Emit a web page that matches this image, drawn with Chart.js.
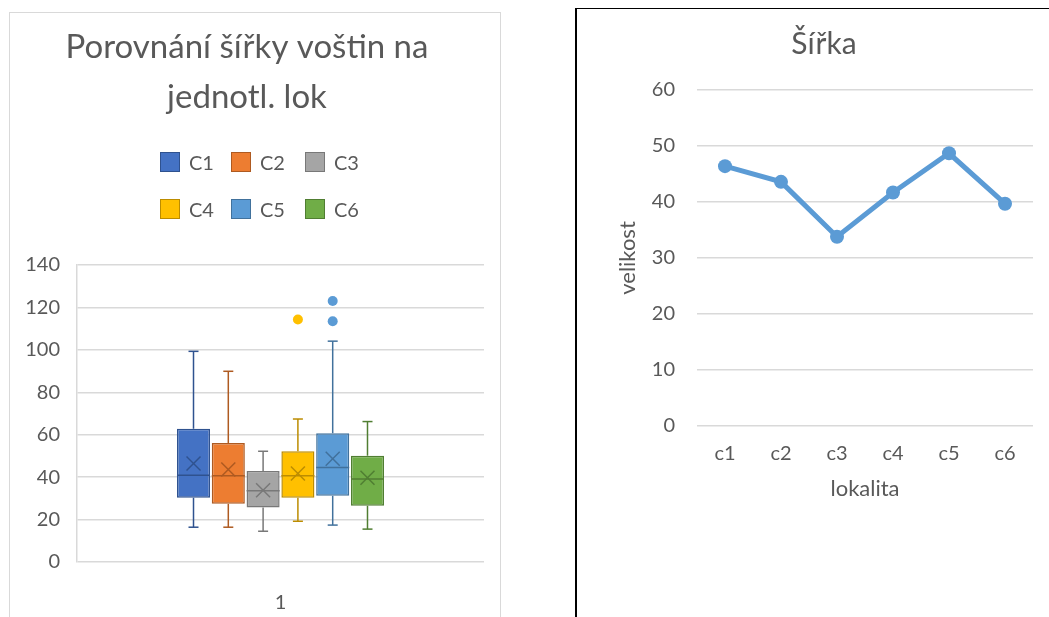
<!DOCTYPE html>
<html lang="cs">
<head>
<meta charset="utf-8">
<script src="https://cdn.jsdelivr.net/npm/chart.js@4.4.1/dist/chart.umd.min.js"></script>
<style>
    body { margin: 0; width: 1049px; height: 617px; background: #fff; position: relative; overflow: hidden; font-family: Lato, sans-serif; }
    #leftPanel { position: absolute; left: 9px; top: 12px; width: 490px; height: 620px; border: 1px solid #d9d9d9; }
    #rightPanel { position: absolute; left: 575px; top: 8px; width: 480px; height: 620px; border-left: 2px solid #000; border-top: 1px solid #000; }
    #boxWrap { position: absolute; left: 0; top: 0; width: 490px; height: 604px; }
    #lineWrap { position: absolute; left: 0; top: 0; width: 472px; height: 608px; }
    #boxLegend { position: absolute; left: 150px; top: 139px; display: grid; grid-template-columns: 71px 74px 60px; row-gap: 27px; }
    .item { display: flex; align-items: center; gap: 9px; font-size: 20px; color: #595959; height: 20px; }
    .swatch { width: 18px; height: 18px; border: 1px solid; }
</style>
</head>
<body>
<div id="leftPanel">
    <div id="boxWrap"><canvas id="boxChart"></canvas></div>
    <div id="boxLegend"></div>
</div>
<div id="rightPanel">
    <div id="lineWrap"><canvas id="lineChart"></canvas></div>
</div>
<script>
// ---- data (box plot) ----
const boxTitle = ["Porovnání šířky voštin na", "jednotl. lok"];
const groupLabels = ["1"];
const seriesNames = ["C1", "C2", "C3", "C4", "C5", "C6"];
const q1 = [30.3, 27.4, 25.7, 30.3, 31.2, 26.5];
const q3 = [62.8, 56.1, 42.9, 52.2, 60.7, 50.1];
const medians = [40.9, 40.7, 33.6, 40.7, 44.6, 39.1];
const whiskerLow = [16.4, 16.4, 14.5, 19.2, 17.4, 15.5];
const whiskerHigh = [99.3, 89.9, 52.2, 67.4, 104.1, 66.2];
const means = [46.4, 43.6, 33.8, 41.7, 48.7, 39.7];
const outliers = [[], [], [], [114.3], [123.0, 113.5], []];
const boxTicks = [0, 20, 40, 60, 80, 100, 120, 140];

// ---- data (line chart) ----
const lineTitle = "Šířka";
const siteLabels = ["c1", "c2", "c3", "c4", "c5", "c6"];
const widthValues = [46.4, 43.6, 33.8, 41.7, 48.7, 39.7];
const lineTicks = [0, 10, 20, 30, 40, 50, 60];

const fillColors = ["#4472C4", "#ED7D31", "#A5A5A5", "#FFC000", "#5B9BD5", "#70AD47"];
const edgeColors = ["#2F528F", "#AE5A21", "#787878", "#BC8C00", "#41719C", "#507E32"];
const textColor = "#595959";
const gridColor = "#d9d9d9";

Chart.defaults.font.family = "Lato, sans-serif";
Chart.defaults.color = textColor;

// legend (3 per row, like the original)
const legendBox = document.getElementById("boxLegend");
seriesNames.forEach((name, i) => {
    const item = document.createElement("div");
    item.className = "item";
    item.innerHTML = `<span class="swatch" style="background:${fillColors[i]};border-color:${edgeColors[i]}"></span><span>${name}</span>`;
    legendBox.appendChild(item);
});

// whiskers, median, mean cross and outliers on top of the floating bars
const boxExtras = {
    id: "boxExtras",
    afterDatasetsDraw(chart) {
        const { ctx } = chart;
        const y = chart.scales.y;
        ctx.save();
        ctx.lineWidth = 1.5;
        chart.data.datasets.forEach((ds, i) => {
            const bar = chart.getDatasetMeta(i).data[0];
            const x = bar.x;
            const half = bar.width / 2;
            const cap = 5;
            ctx.strokeStyle = edgeColors[i];

            const seg = (x1, y1, x2, y2) => {
                ctx.beginPath();
                ctx.moveTo(x1, y1);
                ctx.lineTo(x2, y2);
                ctx.stroke();
            };

            const yHi = y.getPixelForValue(whiskerHigh[i]);
            const yLo = y.getPixelForValue(whiskerLow[i]);
            seg(x, y.getPixelForValue(q3[i]), x, yHi);
            seg(x - cap, yHi, x + cap, yHi);
            seg(x, y.getPixelForValue(q1[i]), x, yLo);
            seg(x - cap, yLo, x + cap, yLo);

            const yMed = y.getPixelForValue(medians[i]);
            seg(x - half, yMed, x + half, yMed);

            const yMean = y.getPixelForValue(means[i]);
            const m = 7;
            seg(x - m, yMean - m, x + m, yMean + m);
            seg(x - m, yMean + m, x + m, yMean - m);

            ctx.fillStyle = fillColors[i];
            outliers[i].forEach(v => {
                ctx.beginPath();
                ctx.arc(x, y.getPixelForValue(v), 5, 0, Math.PI * 2);
                ctx.fill();
            });
        });
        ctx.restore();
    }
};

new Chart(document.getElementById("boxChart"), {
    type: "bar",
    data: {
        labels: groupLabels,
        datasets: seriesNames.map((name, i) => ({
            label: name,
            data: [[q1[i], q3[i]]],
            backgroundColor: fillColors[i],
            borderColor: edgeColors[i],
            borderWidth: 1.5,
            borderSkipped: false,
            barPercentage: 0.95,
            categoryPercentage: 0.513
        }))
    },
    options: {
        responsive: true,
        maintainAspectRatio: false,
        animation: false,
        layout: { padding: { left: 0, right: 16, top: 0, bottom: 0 } },
        plugins: {
            legend: { display: false },
            tooltip: { enabled: false },
            title: {
                display: true,
                text: boxTitle,
                color: textColor,
                font: { size: 33, weight: "normal", lineHeight: "50px" },
                padding: { top: 9, bottom: 143 }
            }
        },
        scales: {
            x: {
                grid: { display: false },
                border: { display: false },
                ticks: { font: { size: 20 }, padding: 21 },
                afterFit: s => { s.height = 55; }
            },
            y: {
                min: 0,
                max: 140,
                afterBuildTicks: s => { s.ticks = boxTicks.map(v => ({ value: v })); },
                ticks: { font: { size: 20 }, padding: 17 },
                grid: { color: gridColor, lineWidth: 1.5, drawTicks: false },
                border: { display: true, color: gridColor, width: 1.5 },
                afterFit: s => { s.width = 67; }
            }
        }
    },
    plugins: [boxExtras]
});

new Chart(document.getElementById("lineChart"), {
    type: "line",
    data: {
        labels: siteLabels,
        datasets: [{
            label: lineTitle,
            data: widthValues,
            borderColor: "#5B9BD5",
            backgroundColor: "#5B9BD5",
            borderWidth: 5,
            pointRadius: 7,
            pointBorderWidth: 0,
            tension: 0
        }]
    },
    options: {
        responsive: true,
        maintainAspectRatio: false,
        animation: false,
        layout: { padding: { left: 38, right: 16, top: 0, bottom: 0 } },
        plugins: {
            legend: { display: false },
            tooltip: { enabled: false },
            title: {
                display: true,
                text: lineTitle,
                color: textColor,
                font: { size: 30, weight: "normal", lineHeight: 1.2 },
                padding: { top: 17, bottom: 28 }
            }
        },
        scales: {
            x: {
                offset: true,
                grid: { display: false },
                border: { display: false },
                ticks: { font: { size: 20 }, padding: 8 },
                title: { display: true, text: "lokalita", font: { size: 22 }, padding: { top: 0, bottom: 115 } },
                afterFit: s => { s.height = 191; }
            },
            y: {
                min: 0,
                max: 60,
                afterBuildTicks: s => { s.ticks = lineTicks.map(v => ({ value: v })); },
                ticks: { font: { size: 20 }, padding: 22 },
                grid: { color: gridColor, lineWidth: 1.5, drawTicks: false },
                border: { display: false },
                title: { display: true, text: "velikost", font: { size: 22 }, padding: { top: 0, bottom: 0 } },
                afterFit: s => { s.width = 82; }
            }
        }
    }
});
</script>
</body>
</html>
